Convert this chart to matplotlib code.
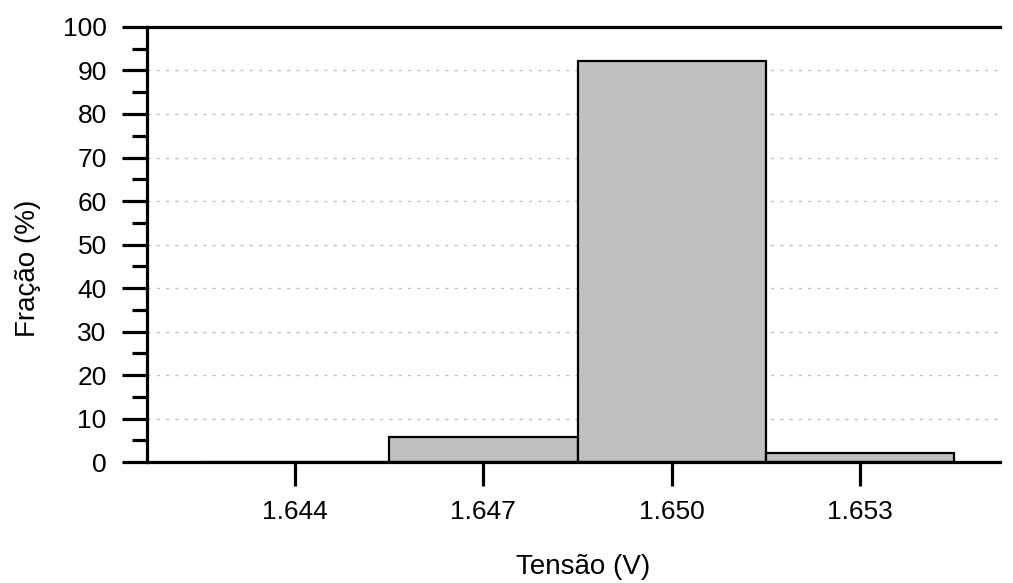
import numpy as np
import matplotlib
matplotlib.use("Agg")
import matplotlib.pyplot as plt
from matplotlib.ticker import MultipleLocator, FormatStrFormatter

plt.rcParams["font.family"] = ["Liberation Sans", "DejaVu Sans"]

# histogram data
tensao = [1.644, 1.647, 1.650, 1.653]
fracao = [0.0, 5.8, 92.2, 2.1]
tick_labels = ["1.644", "1.647", "1.650", "1.653"]

fig = plt.figure(figsize=(10.13, 5.83), dpi=100)
ax = fig.add_axes([0.1451, 0.2075, 0.842, 0.7462])

ax.bar(tensao, fracao, width=0.003, color="#c0c0c0", edgecolor="black",
       linewidth=1.6, zorder=3)

ax.set_xlim(1.64164, 1.65523)
ax.set_ylim(0, 100)

ax.set_xticks(tensao)
ax.set_xticklabels(tick_labels)
ax.yaxis.set_major_locator(MultipleLocator(10))
ax.yaxis.set_minor_locator(MultipleLocator(5))
ax.yaxis.set_major_formatter(FormatStrFormatter("%d"))

for y in range(10, 100, 10):
    ax.axhline(y, color="#c0c0c0", lw=1, ls=(0, (2.2, 4.5)), zorder=1)

ax.spines["right"].set_visible(False)
for s in ["left", "bottom", "top"]:
    ax.spines[s].set_linewidth(2.3)
    ax.spines[s].set_zorder(4)

ax.tick_params(axis="y", which="major", direction="out", length=18, width=2.3,
               labelsize=19, pad=11)
ax.tick_params(axis="y", which="minor", direction="out", length=11, width=2.3)
ax.tick_params(axis="x", which="major", direction="out", length=17, width=2.3,
               labelsize=19, pad=10)

ax.set_xlabel("Tensão (V)", fontsize=20)
ax.set_ylabel("Fração (%)", fontsize=20)
ax.xaxis.set_label_coords(0.511, -0.2115)
ax.yaxis.set_label_coords(-0.124, 0.446)

fig.savefig("out.png", dpi=100)
